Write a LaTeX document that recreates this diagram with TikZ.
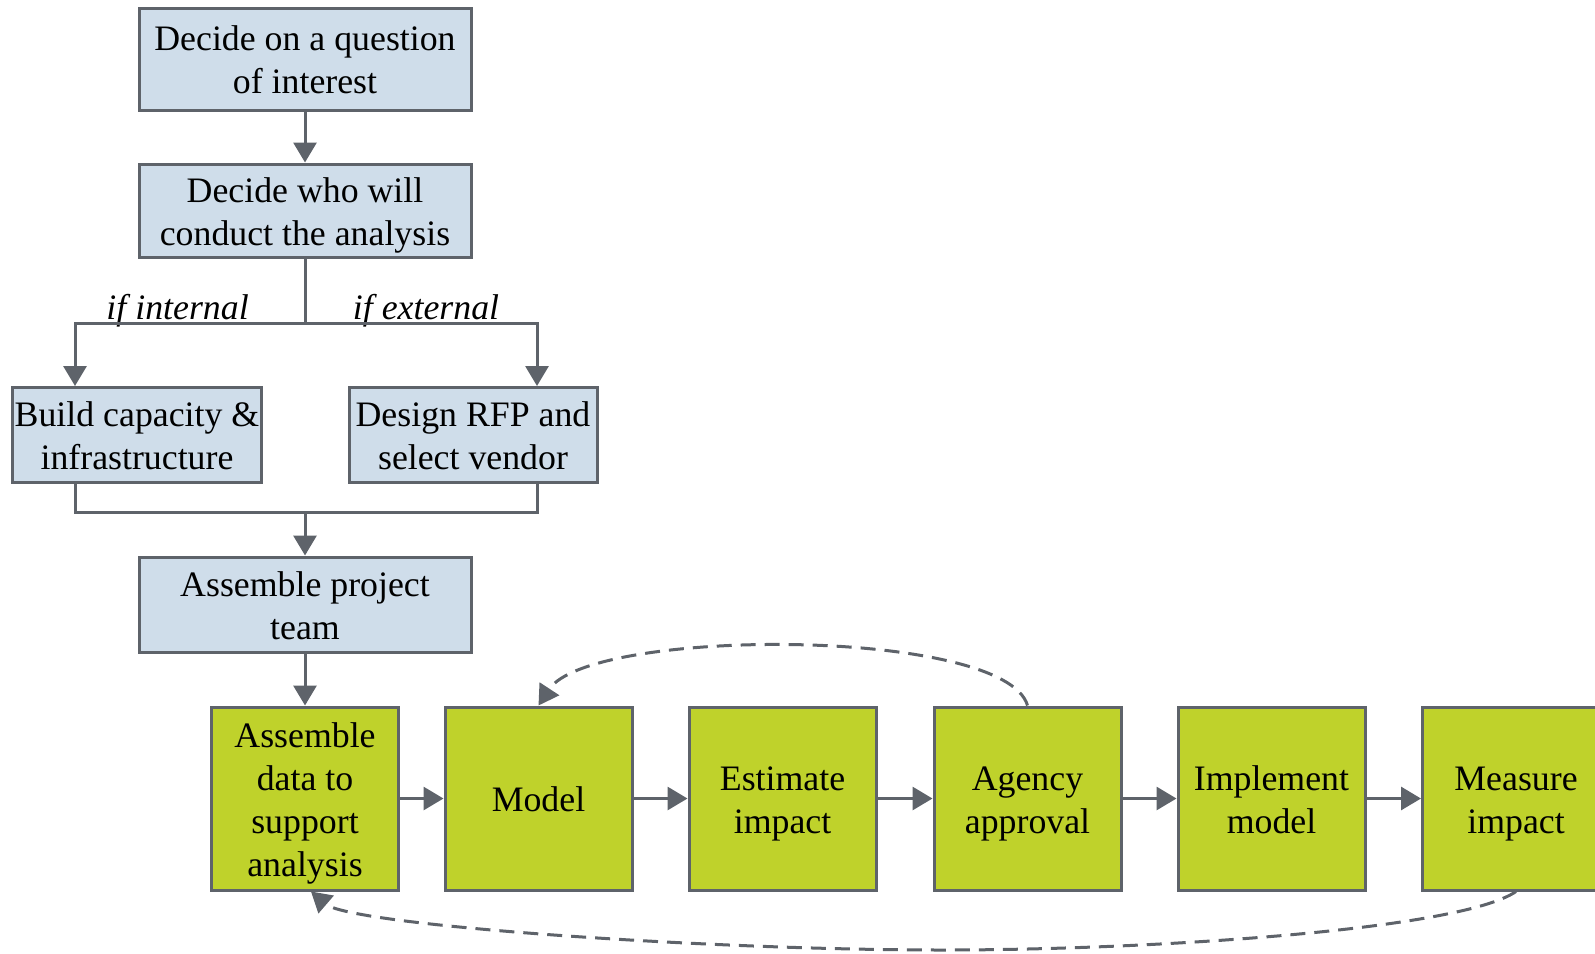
\documentclass[tikz,border=0pt]{standalone}
\usepackage{fontspec}
\setmainfont{Liberation Serif}
\usetikzlibrary{arrows.meta}
\definecolor{bluefill}{RGB}{207,221,234}
\definecolor{greenfill}{RGB}{191,210,43}
\definecolor{edgegray}{RGB}{94,99,106}
\newcommand\bl[1]{\smash{#1}\rule{0pt}{13pt}}
\begin{document}
\begin{tikzpicture}[x=0.5pt,y=-0.5pt,
  box/.style={draw=edgegray, line width=1.5pt, align=center, inner sep=0pt,
    font=\fontsize{17.9}{21.5}\selectfont},
  bluebox/.style={box, fill=bluefill},
  greenbox/.style={box, fill=greenfill, minimum width=93.5pt, minimum height=91.5pt},
  line/.style={draw=edgegray, line width=1.5pt},
  arr/.style={line, -{Triangle[length=10pt,width=11.5pt]}},
  back/.style={arr, dash pattern=on 7.5pt off 4.5pt},
  lbl/.style={font=\fontsize{17.9}{21.5}\selectfont\itshape, anchor=base, inner sep=0pt}]
\useasboundingbox (0,0) rectangle (1595,953);

\node[bluebox, minimum width=166pt, minimum height=51pt] (b1) at (305,59)
  {\bl{Decide on a question}\\\bl{of interest}};
\node[bluebox, minimum width=166pt, minimum height=46.5pt] (b2) at (305,210.5)
  {\bl{Decide who will}\\\bl{conduct the analysis}};
\node[bluebox, minimum width=124.75pt, minimum height=47.5pt] (b3) at (137,435)
  {\bl{Build capacity \&}\\\bl{infrastructure}};
\node[bluebox, minimum width=124pt, minimum height=47.5pt] (b4) at (473,435)
  {\bl{Design RFP and}\\\bl{select vendor}};
\node[bluebox, minimum width=166pt, minimum height=47.5pt] (b5) at (305,604.5)
  {\bl{Assemble project}\\\bl{team}};

\node[greenbox] (g1) at (305,798.5) {\bl{Assemble}\\\bl{data to}\\\bl{support}\\\bl{analysis}};
\node[greenbox] (g2) at (538.5,798.5) {\bl{Model}};
\node[greenbox] (g3) at (782.5,798.5) {\bl{Estimate}\\\bl{impact}};
\node[greenbox] (g4) at (1027.5,798.5) {\bl{Agency}\\\bl{approval}};
\node[greenbox] (g5) at (1271.5,798.5) {\bl{Implement}\\\bl{model}};
\node[greenbox] (g6) at (1516,798.5) {\bl{Measure}\\\bl{impact}};

\coordinate (sp) at (305,323);
\coordinate (mg) at (305,512);

\node[lbl] (li) at (177.6,319) {if internal};
\node[lbl] (le) at (426,319) {if external};

\draw[arr] (b1.south) -- (b2.north);
\draw[arr] (b2.south) -- (sp) -| ([xshift=-31pt]b3.north);
\draw[arr] (sp) -| ([xshift=32pt]b4.north);
\draw[line] ([xshift=-31pt]b3.south) |- (mg) -| ([xshift=32pt]b4.south);
\draw[arr] (mg) -- (b5.north);
\draw[arr] (b5.south) -- (g1.north);

\draw[arr] (g1.east) -- (g2.west);
\draw[arr] (g2.east) -- (g3.west);
\draw[arr] (g3.east) -- (g4.west);
\draw[arr] (g4.east) -- (g5.west);
\draw[arr] (g5.east) -- (g6.west);

\draw[back] (g4.north) .. controls (1005,627) and (590,627) .. (g2.north);
\draw[back] (g6.south) .. controls (1460,930) and (1150,950) .. (943,950)
  .. controls (700,950) and (350,925) .. ([xshift=3pt]g1.south);
\end{tikzpicture}
\end{document}
